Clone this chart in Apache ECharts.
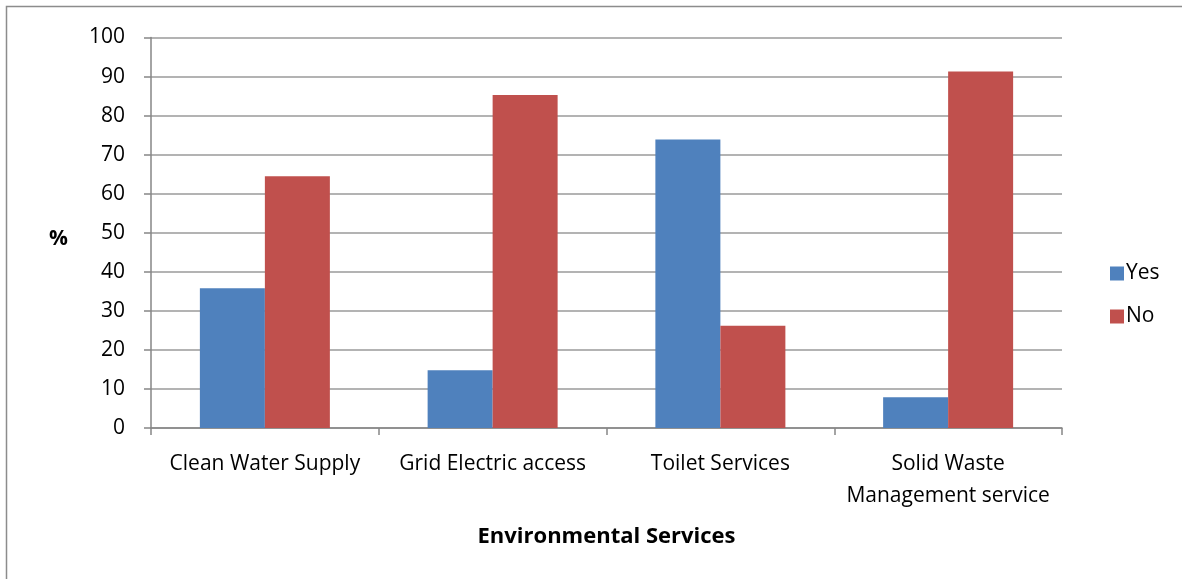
<!DOCTYPE html>
<html>
<head>
<meta charset="utf-8">
<script src="https://cdn.jsdelivr.net/npm/echarts@6/dist/echarts.min.js"></script>
<style>
html,body{margin:0;padding:0;background:#fff;}
#chart{width:1182px;height:579px;}
</style>
</head>
<body>
<div id="chart"></div>
<script>
const categories = ["Clean Water Supply", "Grid Electric access", "Toilet Services", "Solid Waste\nManagement service"];
const yesValues = [35.8, 14.8, 73.9, 7.9];
const noValues = [64.5, 85.3, 26.2, 91.3];
const seriesNames = ["Yes", "No"];
const yTicks = { min: 0, max: 100, interval: 10 };
const xTitle = "Environmental Services";
const yTitle = "%";

const FONT = '"Open Sans", "Noto Sans", sans-serif';
const chart = echarts.init(document.getElementById('chart'), null, { renderer: 'canvas' });
chart.setOption({
  backgroundColor: '#ffffff',
  animation: false,
  textStyle: { fontFamily: FONT, color: '#000' },
  graphic: [{
    type: 'rect',
    shape: { x: 6.5, y: 6.5, width: 1300, height: 700 },
    style: { fill: 'none', stroke: '#8c8c8c', lineWidth: 1.5 },
    silent: true
  }],
  grid: { left: 151, right: 120, top: 37.5, bottom: 151, containLabel: false },
  legend: {
    orient: 'vertical',
    left: 1105,
    top: 258,
    itemWidth: 14,
    itemHeight: 14,
    itemGap: 22,
    icon: 'rect',
    textStyle: { fontFamily: FONT, fontSize: 21, color: '#000', padding: [0, 0, 0, -3] },
    data: seriesNames
  },
  xAxis: {
    type: 'category',
    data: categories,
    name: xTitle,
    nameLocation: 'middle',
    nameGap: 98,
    nameTextStyle: { fontFamily: FONT, fontSize: 22, fontWeight: 'bold', color: '#000' },
    axisLine: { lineStyle: { color: '#868686', width: 1.5 } },
    axisTick: { show: true, interval: 0, length: 7, lineStyle: { color: '#868686', width: 1.5 } },
    axisLabel: { interval: 0, fontFamily: FONT, fontSize: 21, color: '#000', margin: 20, lineHeight: 32 }
  },
  yAxis: {
    type: 'value',
    min: yTicks.min,
    max: yTicks.max,
    interval: yTicks.interval,
    name: yTitle,
    nameLocation: 'middle',
    nameRotate: 0,
    nameGap: 83,
    nameTextStyle: { fontFamily: FONT, fontSize: 21, fontWeight: 'bold', color: '#000', verticalAlign: 'top', lineHeight: 12 },
    axisLine: { show: true, lineStyle: { color: '#868686', width: 1.5 } },
    axisTick: { show: true, length: 7, lineStyle: { color: '#868686', width: 1.5 } },
    axisLabel: { fontFamily: FONT, fontSize: 21, color: '#000', margin: 26 },
    splitLine: { show: true, lineStyle: { color: '#9a9a9a', width: 1.5 } }
  },
  series: [
    {
      name: seriesNames[0], type: 'bar', data: yesValues,
      barWidth: 65, barGap: '0%',
      itemStyle: { color: '#4F81BD' }
    },
    {
      name: seriesNames[1], type: 'bar', data: noValues,
      barWidth: 65, barGap: '0%',
      itemStyle: { color: '#C0504D' }
    }
  ]
});
</script>
</body>
</html>
